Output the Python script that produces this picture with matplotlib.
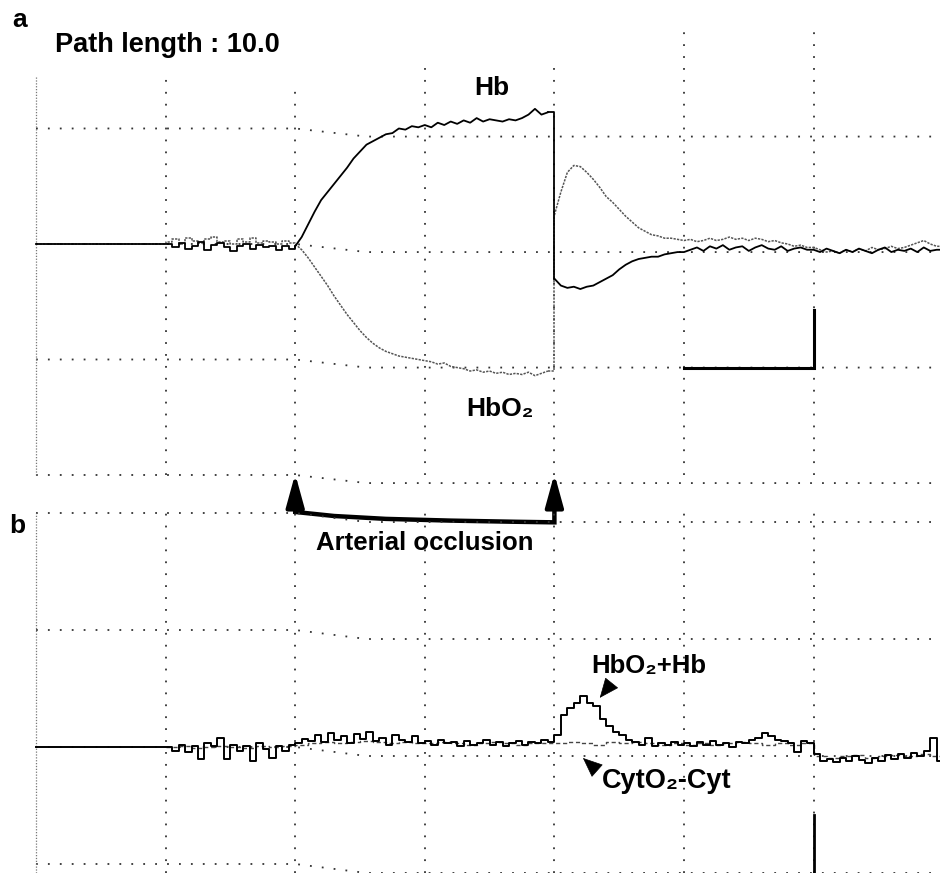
import numpy as np
import matplotlib
matplotlib.use('Agg')
import matplotlib.pyplot as plt

plt.rcParams['font.family'] = ['Liberation Sans', 'DejaVu Sans']
plt.rcParams['font.weight'] = 'bold'

# ---------------- data (x in chart divisions, y in divisions) ----------------
t = np.round(np.arange(1.0, 7.01, 0.05), 2)          # 1.00 ... 7.00
t_full = np.concatenate([[0.0], t])

hb_a = [0.0,
    0.00, -0.03, 0.01, -0.04, -0.02, 0.02, -0.05, -0.01, 0.01, -0.03, -0.06, -0.02, 0.00, -0.04, -0.01, -0.03, -0.02, -0.05, -0.02, -0.04,
    -0.02, 0.06, 0.17, 0.28, 0.38, 0.45, 0.52, 0.59, 0.66, 0.74, 0.80, 0.86, 0.89, 0.92, 0.95, 0.96, 1.00, 0.99, 1.02, 1.01,
    1.03, 1.01, 1.05, 1.03, 1.06, 1.04, 1.07, 1.05, 1.09, 1.06, 1.08, 1.07, 1.06, 1.08, 1.07, 1.09, 1.12, 1.17, 1.12, 1.14,
    -0.30, -0.36, -0.38, -0.37, -0.39, -0.37, -0.36, -0.33, -0.30, -0.27, -0.22, -0.18, -0.15, -0.13, -0.12, -0.11, -0.11, -0.09, -0.08, -0.07,
    -0.07, -0.05, -0.03, -0.06, -0.02, -0.04, -0.01, -0.05, -0.03, -0.02, -0.06, -0.03, -0.01, -0.04, -0.05, -0.02, -0.06, -0.04, -0.03, -0.05,
    -0.05, -0.07, -0.04, -0.06, -0.08, -0.05, -0.07, -0.04, -0.06, -0.08, -0.05, -0.03, -0.07, -0.05, -0.06, -0.04, -0.07, -0.03, -0.06, -0.05, -0.05]

hbo2_a = [0.0,
    0.02, 0.04, 0.00, 0.05, 0.03, 0.01, 0.04, 0.06, 0.02, 0.03, 0.00, 0.04, 0.02, 0.05, 0.01, 0.03, 0.02, 0.00, 0.03, 0.01,
    0.00, -0.05, -0.12, -0.20, -0.28, -0.36, -0.45, -0.53, -0.61, -0.68, -0.75, -0.81, -0.86, -0.90, -0.93, -0.95, -0.97, -0.98, -0.99, -1.00,
    -1.01, -1.02, -1.04, -1.03, -1.06, -1.07, -1.08, -1.10, -1.09, -1.11, -1.10, -1.12, -1.11, -1.13, -1.12, -1.13, -1.11, -1.14, -1.12, -1.10,
    0.25, 0.45, 0.62, 0.68, 0.67, 0.62, 0.56, 0.49, 0.41, 0.36, 0.30, 0.24, 0.19, 0.14, 0.11, 0.08, 0.07, 0.05, 0.05, 0.04,
    0.03, 0.04, 0.02, 0.03, 0.05, 0.03, 0.04, 0.06, 0.04, 0.05, 0.03, 0.05, 0.04, 0.02, 0.03, 0.01, 0.00, -0.02, -0.01, -0.03,
    -0.03, -0.05, -0.07, -0.06, -0.08, -0.05, -0.07, -0.04, -0.06, -0.03, -0.05, -0.04, -0.02, -0.04, -0.03, -0.01, 0.01, 0.03, 0.00, -0.02, -0.02]

hbsum_b = [0.0,
    0.00, -0.03, 0.02, -0.04, 0.01, -0.10, 0.03, 0.01, 0.08, -0.10, 0.02, -0.03, 0.01, -0.12, 0.03, -0.02, -0.09, 0.01, -0.03, 0.02,
    0.03, 0.07, 0.05, 0.10, 0.04, 0.12, 0.06, 0.09, 0.03, 0.11, 0.07, 0.13, 0.05, 0.08, 0.02, 0.10, 0.06, 0.04, 0.09, 0.03,
    0.05, 0.02, 0.06, 0.03, 0.04, 0.01, 0.05, 0.02, 0.03, 0.06, 0.02, 0.04, 0.01, 0.03, 0.05, 0.02, 0.04, 0.03, 0.06, 0.04,
    0.10, 0.27, 0.33, 0.38, 0.44, 0.38, 0.35, 0.24, 0.18, 0.13, 0.10, 0.06, 0.04, 0.02, 0.08, 0.01, 0.03, 0.02, 0.04, 0.02,
    0.03, 0.01, 0.04, 0.02, 0.05, 0.02, 0.03, 0.00, 0.04, 0.03, 0.06, 0.08, 0.12, 0.09, 0.06, 0.05, 0.03, -0.04, 0.05, 0.03,
    -0.06, -0.12, -0.10, -0.13, -0.09, -0.12, -0.08, -0.11, -0.14, -0.09, -0.12, -0.07, -0.10, -0.06, -0.09, -0.05, -0.08, -0.03, 0.08, -0.12, -0.06]

t_cyt = np.round(np.arange(1.0, 7.01, 0.1), 1)
cyt_b = [0.00, 0.01, -0.01, 0.00, 0.01, 0.00, -0.01, 0.01, 0.00, 0.01,
         0.02, 0.03, 0.04, 0.03, 0.04, 0.05, 0.04, 0.03, 0.04, 0.03,
         0.03, 0.04, 0.03, 0.02, 0.03, 0.04, 0.03, 0.02, 0.03, 0.03,
         0.03, 0.04, 0.03, 0.02, 0.04, 0.03, 0.04, 0.03, 0.02, 0.03,
         0.02, 0.03, 0.02, 0.03, 0.04, 0.03, 0.02, 0.03, 0.02, 0.03,
         -0.08, -0.09, -0.08, -0.07, -0.09, -0.08, -0.07, -0.08, -0.06, -0.08, -0.08]

occlusion_start, occlusion_end = 2.0, 4.0
scale_time = 1.0      # horizontal scale bar (divisions)
scale_amp = 0.5       # vertical scale bar (divisions)

# chart-paper grid (slight skew of the scanned paper)
grid_x = [0, 1, 2, 3, 4, 5, 6]
grid_a = [1, 0, -1, -2]
grid_b = [2, 1, 0, -1]
skew_x = [0.0, 2.0, 2.55, 7.0]
skew_a = [0.0, 0.0, -0.07, -0.07]
skew_b = [0.0, 0.0, -0.077, -0.077]
vtop_a = [1.45, 1.5, 1.4, 1.55, 1.55, 1.85, 1.85]

# ---------------- figure ----------------
W, H = 940, 873
fig = plt.figure(figsize=(W / 100, H / 100), dpi=100)

left = 36 / W
ax_a = fig.add_axes([left, 1 - 477.3 / H, 1 - left, 447.0 / H])
ax_a.set_xlim(0, (W - 36) / 129.6)
ax_a.set_ylim(-2.02, 1.85)
ax_b = fig.add_axes([left, 0, 1 - left, (H - 513) / H])
ax_b.set_xlim(0, (W - 36) / 129.6)
ax_b.set_ylim(-1.077, 2.0)
for ax in (ax_a, ax_b):
    ax.axis('off')

dot = dict(color='#333333', lw=1.3, linestyle=(0, (1, 5.6)), clip_on=False, zorder=1)
dense = dict(color='#777777', lw=0.9, linestyle=(0, (1, 1.3)), clip_on=False, zorder=1)

for g in grid_a:
    ax_a.plot(skew_x, np.array(skew_a) + g, **dot)
for g in grid_b:
    ax_b.plot(skew_x, np.array(skew_b) + g, **dot)
for gx, top in zip(grid_x, vtop_a):
    ax_a.plot([gx, gx], [-2.0, top], **(dense if gx == 0 else dot))
    ax_b.plot([gx, gx], [-1.077, 2.0], **(dense if gx == 0 else dot))

# traces of panel a: stepped baseline, smooth during/after occlusion,
# with the abrupt release at the end of occlusion drawn as a step
i_on = list(t_full).index(occlusion_start)
i_off = list(t_full).index(occlusion_end)
styles = [dict(color='#555555', lw=1.1, linestyle=(0, (1.5, 0.8)), zorder=3),
          dict(color='black', lw=1.3, zorder=4)]
for series, st in zip([hbo2_a, hb_a], styles):
    ax_a.plot(t_full[:i_on + 1], series[:i_on + 1], drawstyle='steps-post', clip_on=False, **st)
    ax_a.plot(t_full[i_on:i_off], series[i_on:i_off], clip_on=False, **st)
    ax_a.plot(t_full[i_off - 1:i_off + 1], series[i_off - 1:i_off + 1], drawstyle='steps-post',
              clip_on=False, **st)
    ax_a.plot(t_full[i_off:], series[i_off:], clip_on=False, **st)

ax_b.plot(t_cyt, cyt_b, drawstyle='steps-post', color='#444444', lw=1.0,
          linestyle=(0, (3, 2)), zorder=3, clip_on=False)
ax_b.plot(t_full, hbsum_b, drawstyle='steps-post', color='black', lw=1.4, zorder=4, clip_on=False)

# scale bars
ax_a.plot([6 - scale_time, 6, 6], [-1.07, -1.07, -1.07 + scale_amp], color='black', lw=2.2,
          solid_joinstyle='miter', zorder=5)
ax_b.plot([6, 6], [-0.58, -0.58 - scale_amp], color='black', lw=2.0, zorder=5, clip_on=False)

# arterial occlusion bracket
bx = [occlusion_start, occlusion_start, 2.3, 2.7, 3.2, 3.7, occlusion_end, occlusion_end]
by = [-2.2, -2.32, -2.355, -2.38, -2.395, -2.405, -2.41, -2.2]
ax_a.plot(bx, by, color='black', lw=3.2, solid_joinstyle='miter', clip_on=False, zorder=5)
for xx in (occlusion_start, occlusion_end):
    ax_a.annotate('', xy=(xx, -1.99), xytext=(xx, -2.25),
                  arrowprops=dict(arrowstyle='-|>,head_length=2.0,head_width=0.55',
                                  color='black', lw=3.0, shrinkA=0, shrinkB=0,
                                  mutation_scale=10), annotation_clip=False)
ax_a.text(3.0, -2.65, 'Arterial occlusion', ha='center', va='baseline',
          fontsize=18.5, fontweight='bold', clip_on=False)

# labels
ax_a.text(3.52, 1.29, 'Hb', ha='center', va='baseline', fontsize=19, fontweight='bold')
ax_a.text(3.58, -1.49, 'HbO\u2082', ha='center', va='baseline', fontsize=19, fontweight='bold')
ax_b.text(4.73, 0.63, 'HbO\u2082+Hb', ha='center', va='baseline', fontsize=18.5, fontweight='bold')
ax_b.text(4.87, -0.35, 'CytO\u2082-Cyt', ha='center', va='baseline', fontsize=19.5, fontweight='bold')

head = dict(arrowstyle='-|>,head_length=1.3,head_width=0.55', color='black', lw=0.5,
            shrinkA=0, shrinkB=0, mutation_scale=10)
ax_b.annotate('', xy=(4.35, 0.42), xytext=(8, 10), textcoords='offset points', arrowprops=head)
ax_b.annotate('', xy=(4.22, -0.094), xytext=(9, -8), textcoords='offset points', arrowprops=head)

fig.text(12 / W, 1 - 27 / H, 'a', fontsize=19, fontweight='bold', va='baseline', ha='left')
fig.text(55 / W, 1 - 52 / H, 'Path length : 10.0', fontsize=19.5, fontweight='bold',
         va='baseline', ha='left')
fig.text(9 / W, 1 - 533 / H, 'b', fontsize=19, fontweight='bold', va='baseline', ha='left')

fig.savefig('out.png', dpi=100, facecolor='white')
